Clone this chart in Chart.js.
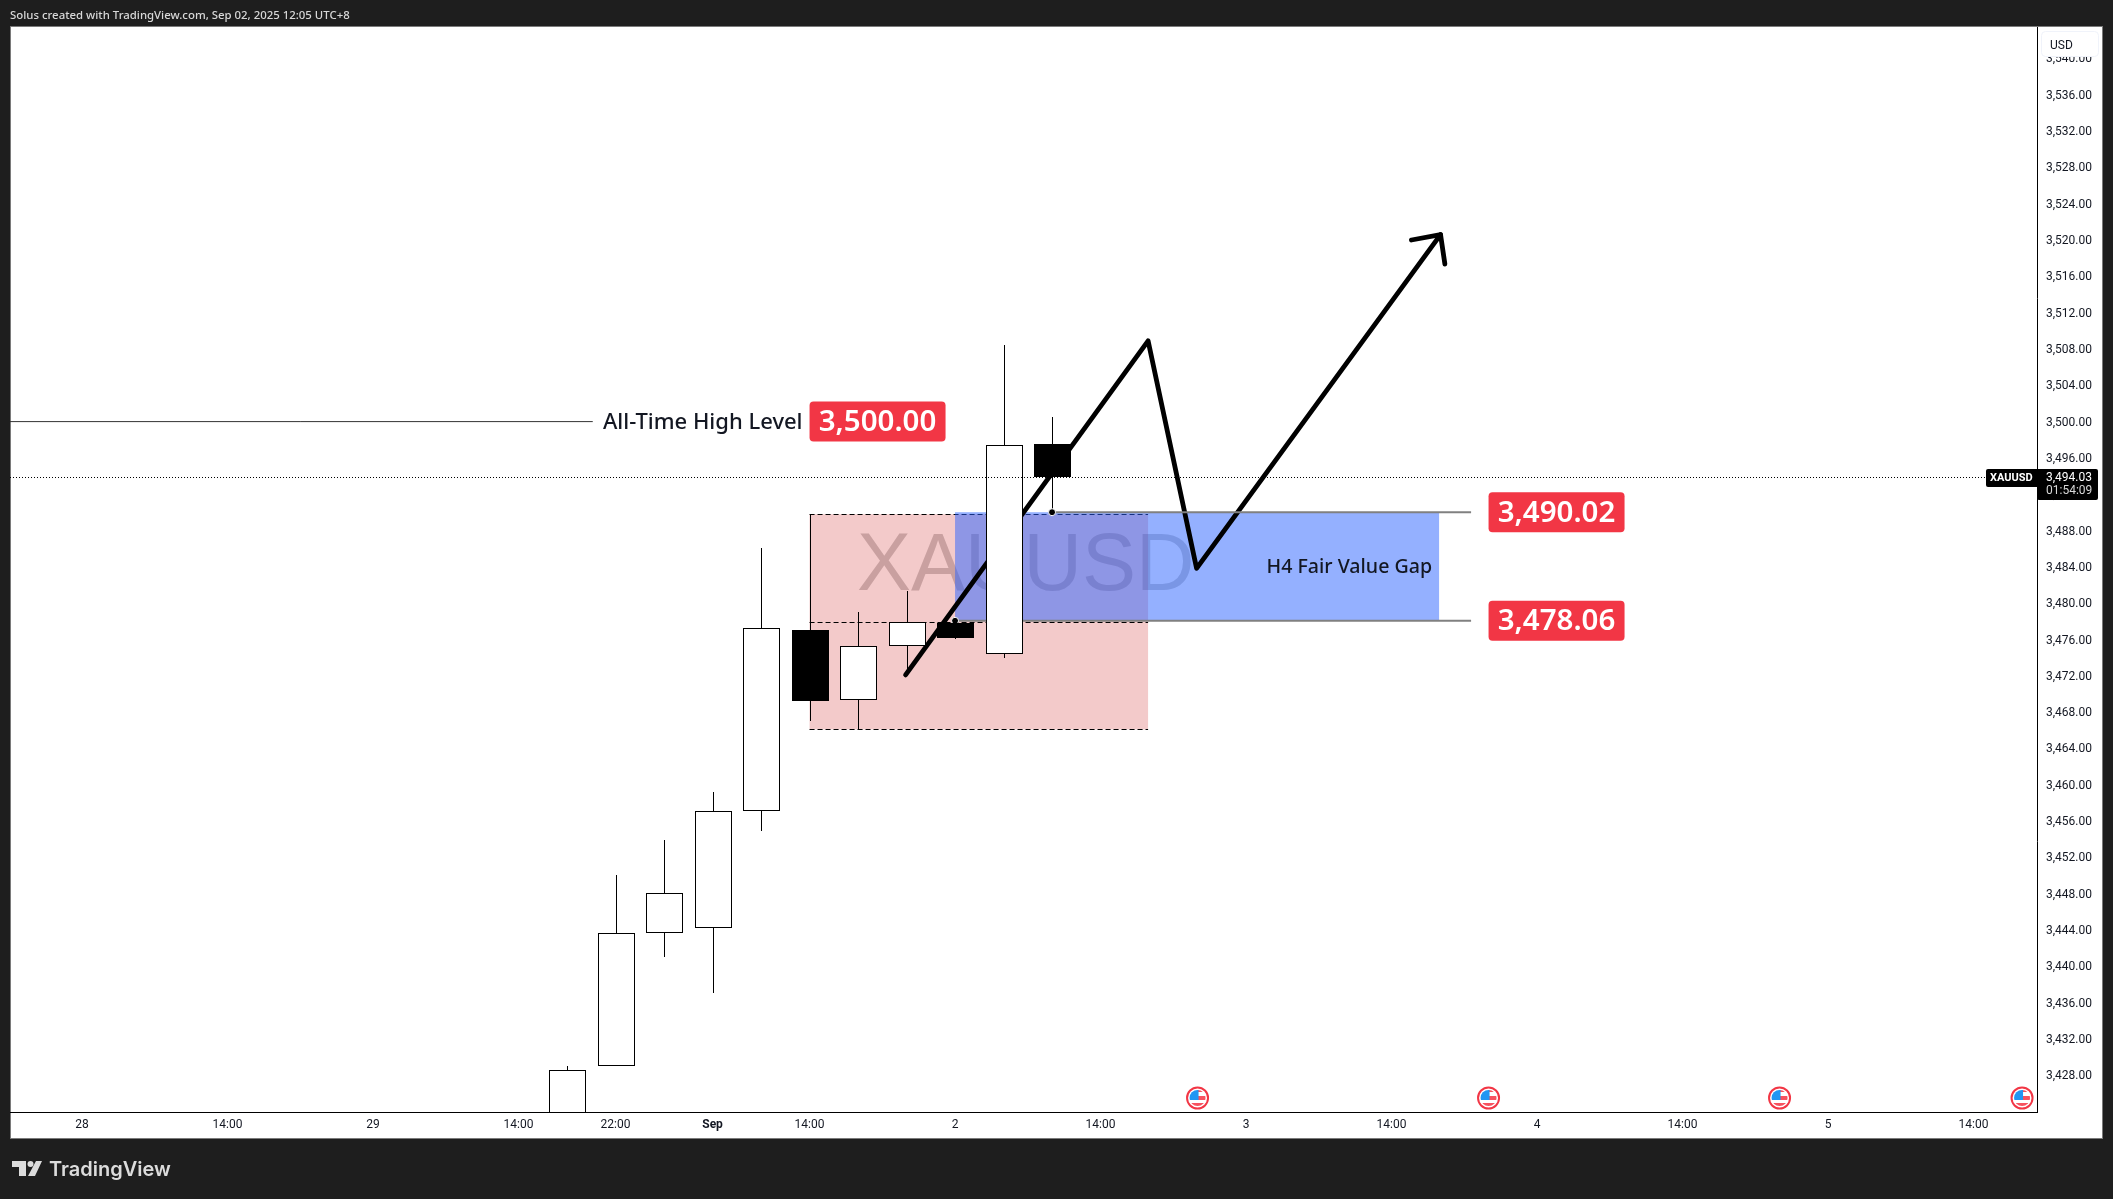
<!DOCTYPE html>
<html>
<head>
<meta charset="utf-8">
<title>XAUUSD</title>
<script src="https://cdn.jsdelivr.net/npm/chart.js@4"></script>
<style>
    html, body { margin: 0; padding: 0; background: #1e1e1e; }
    canvas { display: block; }
</style>
</head>
<body>
<canvas id="myChart" width="2113" height="1199"></canvas>
<script>
// 4h candles, bar 0 is the "28" tick on the time axis
const candleBars = [10, 11, 12, 13, 14, 15, 16, 17, 18, 19, 20];
const openVals = [3420.0, 3429.0, 3443.65, 3444.2, 3457.1, 3477.05, 3469.3, 3475.25, 3477.8, 3474.45, 3497.5];
const highVals = [3429.0, 3450.06, 3453.9, 3459.2, 3486.1, 3489.8, 3479.0, 3481.3, 3478.3, 3508.4, 3500.5];
const lowVals = [3420.0, 3429.0, 3441.0, 3437.1, 3454.9, 3467.0, 3466.1, 3472.1, 3476.05, 3474.0, 3489.9];
const closeVals = [3428.6, 3443.65, 3448.05, 3457.1, 3477.3, 3469.2, 3475.25, 3477.9, 3476.2, 3497.4, 3493.9];

const timeTickBars = [0, 3, 6, 9, 11, 13, 15, 18, 21, 24, 27, 30, 33, 36, 39];
const timeTickLabels = ['28', '14:00', '29', '14:00', '22:00', 'Sep', '14:00', '2', '14:00', '3', '14:00', '4', '14:00', '5', '14:00'];
const priceTicks = [3428, 3432, 3436, 3440, 3444, 3448, 3452, 3456, 3460, 3464, 3468, 3472, 3476, 3480, 3484, 3488, 3492, 3496, 3500, 3504, 3508, 3512, 3516, 3520, 3524, 3528, 3532, 3536, 3540];

// drawings
const pathBars = [16.98, 21.98, 22.98, 28.01];
const pathPrices = [3472.1, 3508.9, 3483.84, 3520.6];
const arrowBars = [27.41, 28.01, 28.1];
const arrowPrices = [3520.0, 3520.6, 3517.35];
const zoneBars = [15, 21.98];
const zoneLevels = [3489.8, 3477.9, 3466.1];
const gapBars = [18, 27.98];
const gapLevels = [3490.02, 3478.06];
const eventBars = [23, 29, 35, 40];
const athLevel = 3500;
const lastPrice = 3494.03;

const RED = '#f23645';
const LABEL_NUDGE = 0.11; // tick labels sit about a pixel lower than the scale

const xy = (xs, ys) => xs.map((x, i) => ({ x: x, y: ys[i] }));
const money = v => v.toLocaleString('en-US', { minimumFractionDigits: 2, maximumFractionDigits: 2 });

function roundRect(ctx, x, y, w, h, r, fill) {
    ctx.beginPath();
    ctx.roundRect(x, y, w, h, r);
    ctx.fillStyle = fill;
    ctx.fill();
}

function priceTag(ctx, left, y, value) {
    roundRect(ctx, left, y - 20, 136, 40, 4, RED);
    ctx.fillStyle = '#fff';
    ctx.font = '600 29.5px "Noto Sans"';
    ctx.textAlign = 'center';
    ctx.textBaseline = 'middle';
    ctx.fillText(money(value), left + 68, y + 1);
}

function drawFlag(ctx, cx, cy) {
    ctx.save();
    ctx.beginPath();
    ctx.arc(cx, cy, 12, 0, Math.PI * 2);
    ctx.fillStyle = '#fff';
    ctx.fill();
    ctx.lineWidth = 2;
    ctx.strokeStyle = RED;
    ctx.beginPath();
    ctx.arc(cx, cy, 10.5, 0, Math.PI * 2);
    ctx.stroke();
    ctx.beginPath();
    ctx.arc(cx, cy, 8, 0, Math.PI * 2);
    ctx.clip();
    ctx.fillStyle = '#f7525f';
    ctx.fillRect(cx, cy - 2, 9, 4);
    ctx.fillRect(cx - 9, cy + 5, 18, 4);
    ctx.fillRect(cx, cy - 8, 9, 2);
    ctx.fillStyle = '#2196f3';
    ctx.fillRect(cx - 9, cy - 9, 10, 11);
    ctx.restore();
}

const chartDressing = {
    id: 'chartDressing',
    afterDatasetsUpdate(chart) {
        // snap candles to whole pixels so wicks stay 1px
        chart.getSortedVisibleDatasetMetas().forEach(meta => {
            if (meta.type !== 'bar') return;
            meta.data.forEach(bar => {
                bar.x = Math.floor(bar.x + 0.45) + 0.5;
                bar.y = Math.round(bar.y);
                bar.base = Math.round(bar.base);
            });
        });
    },
    beforeDraw(chart) {
        const ctx = chart.ctx;
        ctx.save();
        ctx.fillStyle = '#1e1e1e';
        ctx.fillRect(0, 0, chart.width, chart.height);
        ctx.fillStyle = '#fff';
        ctx.fillRect(10, 27, 2093, 1112);
        ctx.strokeStyle = '#7a7a7a';
        ctx.strokeRect(10.5, 26.5, 2092, 1112);
        ctx.restore();
    },
    beforeDatasetsDraw(chart) {
        const { ctx, chartArea, scales: { x, y } } = chart;
        ctx.save();
        ctx.beginPath();
        ctx.rect(chartArea.left, chartArea.top, chartArea.width, chartArea.height);
        ctx.clip();

        ctx.fillStyle = '#cbcbcb';
        ctx.font = '81px "Liberation Sans"';
        ctx.textAlign = 'left';
        ctx.textBaseline = 'middle';
        ctx.fillText('XAUUSD', 857, 568);

        const zl = x.getPixelForValue(zoneBars[0]), zr = x.getPixelForValue(zoneBars[1]);
        const zt = y.getPixelForValue(zoneLevels[0]), zb = y.getPixelForValue(zoneLevels[2]);
        ctx.fillStyle = 'rgba(197, 0, 0, 0.208)';
        ctx.fillRect(zl, zt, zr - zl, zb - zt);
        ctx.setLineDash([5, 3]);
        ctx.strokeStyle = '#000';
        ctx.lineWidth = 1;
        zoneLevels.forEach(level => {
            const ly = Math.round(y.getPixelForValue(level)) + 0.5;
            ctx.beginPath();
            ctx.moveTo(zl, ly);
            ctx.lineTo(zr, ly);
            ctx.stroke();
        });
        ctx.setLineDash([]);

        const gl = x.getPixelForValue(gapBars[0]), gr = x.getPixelForValue(gapBars[1]);
        const gt = y.getPixelForValue(gapLevels[0]), gb = y.getPixelForValue(gapLevels[1]);
        ctx.fillStyle = 'rgba(41, 98, 255, 0.5)';
        ctx.fillRect(gl, gt, gr - gl, gb - gt);
        ctx.restore();
    },
    afterDatasetsDraw(chart) {
        const { ctx, chartArea, scales: { x, y } } = chart;
        ctx.save();

        // last price line
        const lastY = Math.round(y.getPixelForValue(lastPrice)) + 1.5;
        ctx.strokeStyle = '#000';
        ctx.lineWidth = 1;
        ctx.setLineDash([1, 2]);
        ctx.beginPath();
        ctx.moveTo(chartArea.left, lastY);
        ctx.lineTo(chartArea.right, lastY);
        ctx.stroke();
        ctx.setLineDash([]);

        // text on the chart
        ctx.fillStyle = '#131722';
        ctx.font = '500 22px "Noto Sans"';
        ctx.textAlign = 'right';
        ctx.textBaseline = 'middle';
        ctx.fillText('All-Time High Level', x.getPixelForValue(15) - 7, y.getPixelForValue(athLevel) + 1);
        ctx.font = '500 19.6px "Noto Sans"';
        ctx.fillText('H4 Fair Value Gap', x.getPixelForValue(gapBars[1]) - 7, y.getPixelForValue((gapLevels[0] + gapLevels[1]) / 2) + 1);

        priceTag(ctx, x.getPixelForValue(15), y.getPixelForValue(athLevel), athLevel);
        gapLevels.forEach(level => priceTag(ctx, x.getPixelForValue(29), y.getPixelForValue(level), level));

        eventBars.forEach(bar => drawFlag(ctx, x.getPixelForValue(bar), 1098));

        // last price tag on the axis
        roundRect(ctx, 1986, lastY - 8.5, 60, 18, 2, '#000');
        roundRect(ctx, 2037, lastY - 8.5, 61, 31, 2, '#000');
        ctx.font = 'bold 11px Roboto';
        ctx.textAlign = 'left';
        ctx.fillStyle = '#fff';
        ctx.fillText('XAUUSD', 1990, lastY + 0.5);
        ctx.font = '12px Roboto';
        ctx.fillText(money(lastPrice), 2046, lastY + 0.5);
        ctx.fillStyle = '#d8d8d8';
        ctx.fillText('01:54:09', 2046, lastY + 13.5);

        // currency box
        roundRect(ctx, 2041, 31, 58, 26, 4, '#fff');
        ctx.strokeStyle = '#f0f3fa';
        ctx.beginPath();
        ctx.roundRect(2041.5, 31.5, 57, 25, 4);
        ctx.stroke();
        ctx.fillStyle = '#131722';
        ctx.font = '12px Roboto';
        ctx.fillText('USD', 2050, 45.5);

        // header and footer
        ctx.fillStyle = '#d8d8d8';
        ctx.font = '500 11.4px "Noto Sans"';
        ctx.fillText('Solus created with TradingView.com, Sep 02, 2025 12:05 UTC+8', 10, 15.5);

        ctx.fillStyle = '#dcdcdc';
        ctx.fillRect(12, 1161, 14, 6);
        ctx.fillRect(19, 1161, 7, 15);
        ctx.beginPath();
        ctx.arc(30.5, 1164, 3, 0, Math.PI * 2);
        ctx.fill();
        ctx.beginPath();
        ctx.moveTo(36, 1161);
        ctx.lineTo(42, 1161);
        ctx.lineTo(35, 1176);
        ctx.lineTo(28, 1176);
        ctx.closePath();
        ctx.fill();
        ctx.font = '600 20px Inter';
        ctx.fillText('TradingView', 49, 1169.5);

        ctx.restore();
    }
};

const tickFont = { family: 'Roboto', size: 12 };

new Chart(document.getElementById('myChart').getContext('2d'), {
    type: 'bar',
    data: {
        datasets: [
            {
                // bodies
                data: xy(candleBars, openVals.map((o, i) => [o, closeVals[i]])),
                backgroundColor: candleBars.map((b, i) => closeVals[i] >= openVals[i] ? '#fff' : '#000'),
                borderColor: '#000',
                borderWidth: 1,
                borderSkipped: false,
                inflateAmount: 0,
                barThickness: 37,
                grouped: false,
                order: 2
            },
            {
                // wicks
                data: xy(candleBars, lowVals.map((l, i) => [l, highVals[i]])),
                backgroundColor: '#000',
                borderWidth: 0,
                inflateAmount: 0,
                barThickness: 1,
                grouped: false,
                order: 3
            },
            {
                type: 'line',
                data: xy(pathBars, pathPrices),
                borderColor: '#000',
                borderWidth: 4.8,
                borderJoinStyle: 'round',
                borderCapStyle: 'round',
                tension: 0,
                pointRadius: 0,
                order: 4
            },
            {
                type: 'line',
                data: xy(arrowBars, arrowPrices),
                borderColor: '#000',
                borderWidth: 4.8,
                borderJoinStyle: 'round',
                borderCapStyle: 'round',
                tension: 0,
                pointRadius: 0,
                order: 4
            },
            {
                type: 'line',
                data: xy([20, 28.64], [gapLevels[0], gapLevels[0]]),
                borderColor: '#808080',
                borderWidth: 2,
                tension: 0,
                pointRadius: [3.5, 0],
                pointBackgroundColor: '#000',
                pointBorderColor: '#fff',
                pointBorderWidth: 1,
                order: 2.5
            },
            {
                type: 'line',
                data: xy([18, 28.64], [gapLevels[1], gapLevels[1]]),
                borderColor: '#808080',
                borderWidth: 2,
                tension: 0,
                pointRadius: [3.5, 0],
                pointBackgroundColor: '#000',
                pointBorderColor: '#fff',
                pointBorderWidth: 1,
                order: 2.5
            },
            {
                type: 'line',
                data: xy([-1.6, 10.53], [athLevel, athLevel]),
                borderColor: '#333',
                borderWidth: 1,
                tension: 0,
                pointRadius: 0,
                order: 1
            }
        ]
    },
    options: {
        responsive: false,
        animation: false,
        devicePixelRatio: 1,
        layout: { padding: { left: 10, top: 27, right: 10, bottom: 60 } },
        plugins: { legend: { display: false }, tooltip: { enabled: false } },
        scales: {
            x: {
                type: 'linear',
                offset: false,
                bounds: 'data',
                min: -1.4856,
                max: 40.3082,
                grid: { display: false, drawTicks: false },
                border: { display: true, color: '#000', width: 1 },
                afterBuildTicks: scale => { scale.ticks = timeTickBars.map(v => ({ value: v })); },
                afterFit: scale => { scale.height = 27; },
                ticks: {
                    autoSkip: false,
                    maxRotation: 0,
                    padding: 6,
                    color: '#131722',
                    font: c => ({ family: 'Roboto', size: 12, weight: c.tick && c.tick.value === 13 ? 'bold' : 'normal' }),
                    callback: v => timeTickLabels[timeTickBars.indexOf(v)]
                }
            },
            y: {
                type: 'linear',
                position: 'right',
                bounds: 'data',
                min: 3423.96,
                max: 3543.46,
                grid: { display: false, drawTicks: false },
                border: { display: true, color: '#000', width: 1 },
                afterBuildTicks: scale => { scale.ticks = priceTicks.map(v => ({ value: v - LABEL_NUDGE })); },
                afterFit: scale => { scale.width = 66; },
                ticks: {
                    autoSkip: false,
                    padding: 9,
                    color: '#131722',
                    font: tickFont,
                    callback: (v, i) => money(priceTicks[i])
                }
            }
        }
    },
    plugins: [chartDressing]
});
</script>
</body>
</html>
